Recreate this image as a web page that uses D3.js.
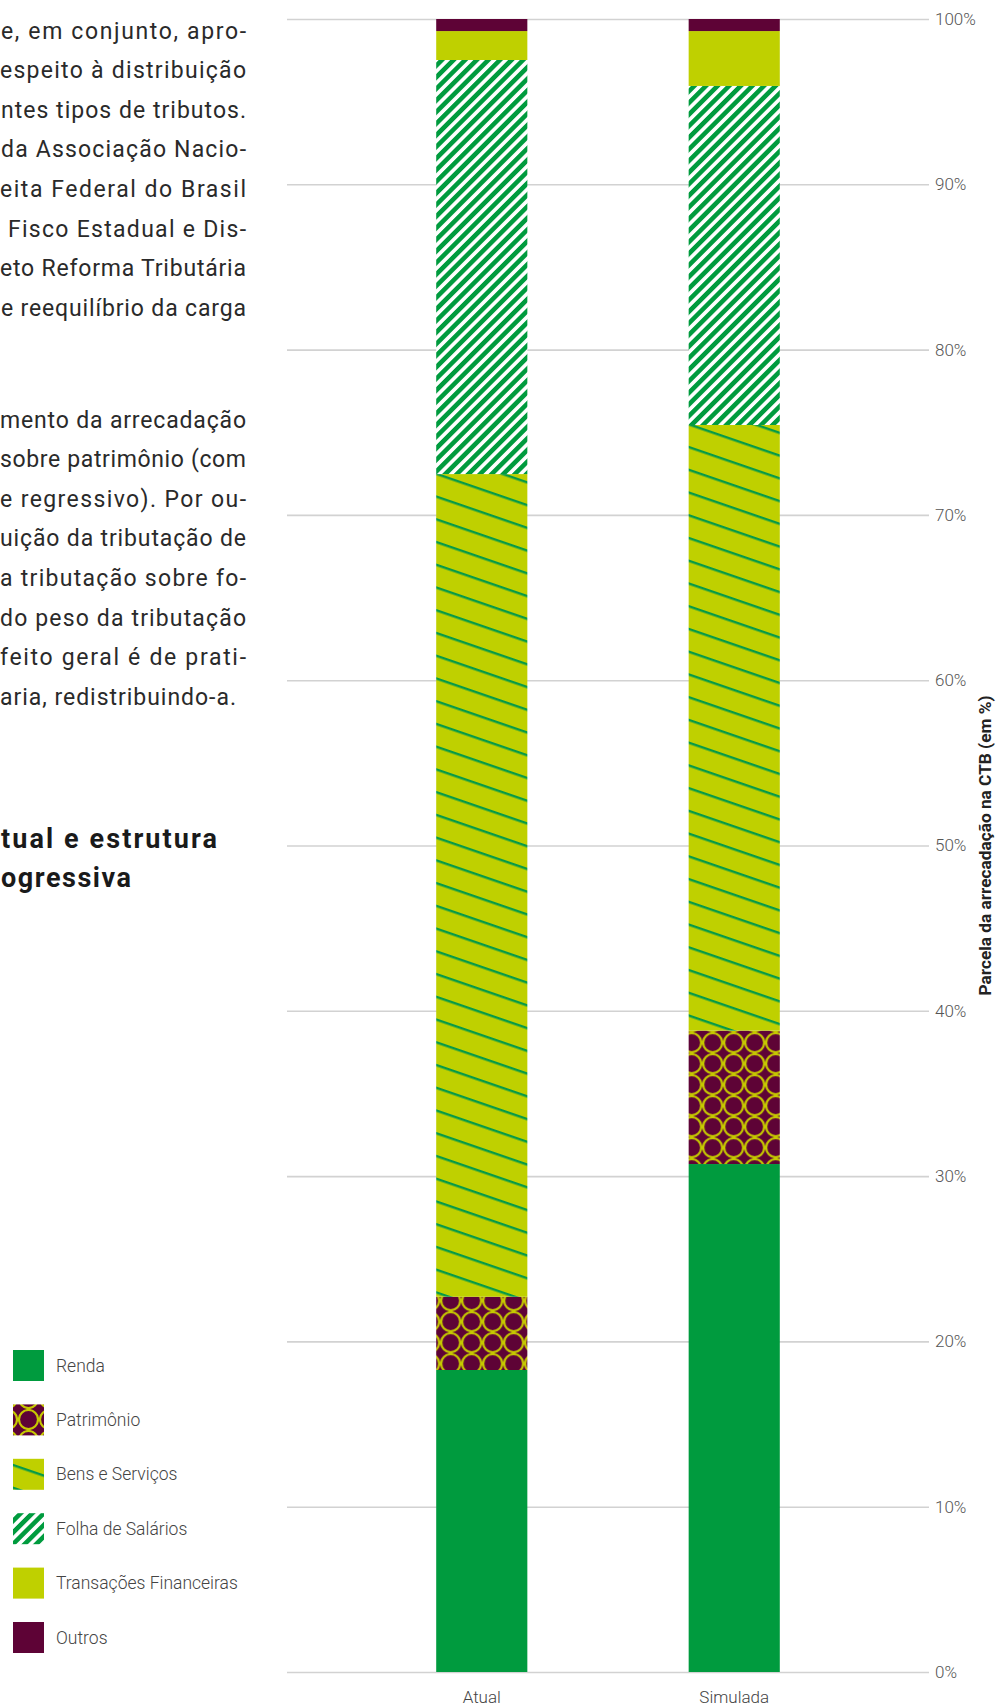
<!DOCTYPE html>
<html>
<head>
<meta charset="utf-8">
<script src="https://cdn.jsdelivr.net/npm/d3@7"></script>
<style>
  html, body { margin: 0; padding: 0; background: #fff; }
  svg { display: block; }
</style>
</head>
<body>
<div id="chart"></div>
<script>
// ---------- DATA ----------
const categories = ["Atual", "Simulada"];
const seriesNames = ["Renda", "Patrimônio", "Bens e Serviços", "Folha de Salários", "Transações Financeiras", "Outros"];
const renda         = [18.27, 30.73];
const patrimonio    = [4.43, 8.07];
const bensServicos  = [49.77, 36.64];
const folhaSalarios = [25.05, 20.51];
const transacoes    = [1.75, 3.32];
const outros        = [0.73, 0.73];
const yTicks = [0, 10, 20, 30, 40, 50, 60, 70, 80, 90, 100];
const axisTitle = "Parcela da arrecadação na CTB (em %)";

const para1 = [
  "e, em conjunto, apro-",
  "espeito à distribuição",
  "ntes tipos de tributos.",
  "da Associação Nacio-",
  "eita Federal do Brasil",
  "Fisco Estadual e Dis-",
  "eto Reforma Tributária",
  "e reequilíbrio da carga"
];
const para2 = [
  "mento da arrecadação",
  "sobre patrimônio (com",
  "e regressivo). Por ou-",
  "uição da tributação de",
  "a tributação sobre fo-",
  "do peso da tributação",
  "feito geral é de prati-",
  "aria, redistribuindo-a."
];
const titleLines = ["tual e estrutura", "ogressiva"];

// ---------- SETUP ----------
const W = 1003, H = 1706;
const FONT = "Roboto, 'Noto Sans', sans-serif";
const svg = d3.select("#chart").append("svg").attr("width", W).attr("height", H);
const defs = svg.append("defs");

const C_GREEN = "#009B3E";
const C_LIME = "#BFD000";
const C_MAROON = "#5E0336";
const C_LINE = "#069A48";
const C_RING = "#C6C900";

// stripes (Folha de Salários)
const pStripe = defs.append("pattern").attr("id", "pFolha")
  .attr("patternUnits", "userSpaceOnUse").attr("width", 8.2).attr("height", 10)
  .attr("patternTransform", "rotate(45)");
pStripe.append("rect").attr("width", 8.2).attr("height", 10).attr("fill", "#fff");
pStripe.append("rect").attr("width", 4.6).attr("height", 10).attr("fill", C_GREEN);

// shallow lines (Bens e Serviços)
const pBens = defs.append("pattern").attr("id", "pBens")
  .attr("patternUnits", "userSpaceOnUse").attr("width", 40).attr("height", 21.5)
  .attr("patternTransform", "translate(0,4) rotate(19)");
pBens.append("rect").attr("width", 40).attr("height", 21.5).attr("fill", C_LIME);
pBens.append("rect").attr("y", 0).attr("width", 40).attr("height", 2.4).attr("fill", C_LINE);

// circles (Patrimônio)
function ringPattern(id, cx, cy) {
  const s = 21;
  const p = defs.append("pattern").attr("id", id)
    .attr("patternUnits", "userSpaceOnUse").attr("width", s).attr("height", s)
    .attr("x", cx - s / 2).attr("y", cy - s / 2);
  p.append("rect").attr("width", s).attr("height", s).attr("fill", C_MAROON);
  p.append("circle").attr("cx", s / 2).attr("cy", s / 2).attr("r", 9.5)
    .attr("fill", "none").attr("stroke", C_RING).attr("stroke-width", 2.2);
  [[0, s / 2], [s, s / 2], [s / 2, 0], [s / 2, s]].forEach(([x, y]) => {
    p.append("circle").attr("cx", x).attr("cy", y).attr("r", 1.3).attr("fill", C_RING);
  });
}
ringPattern("pPatr0", 450.7, 1321.7);
ringPattern("pPatr1", 691.7, 1042.7);
ringPattern("pPatrL", 28.5, 1419.5);

function fillFor(name, i) {
  switch (name) {
    case "Renda": return C_GREEN;
    case "Patrimônio": return i === "L" ? "url(#pPatrL)" : `url(#pPatr${i})`;
    case "Bens e Serviços": return "url(#pBens)";
    case "Folha de Salários": return "url(#pFolha)";
    case "Transações Financeiras": return C_LIME;
    case "Outros": return C_MAROON;
  }
}

// ---------- SCALES ----------
const y = d3.scaleLinear().domain([0, 100]).range([1672, 19]);
const x = d3.scaleBand().domain(categories).range([287, 929])
  .paddingInner(0.639).paddingOuter(0.591);

// ---------- GRID + Y AXIS ----------
const yAxis = d3.axisRight(y).tickValues(yTicks).tickSize(929 - 287)
  .tickFormat(d => d + "%").tickPadding(6);
const gy = svg.append("g").attr("transform", "translate(287,0)").call(yAxis);
gy.select(".domain").remove();
gy.selectAll(".tick line").attr("stroke", "#d2d2d2").attr("stroke-width", 1.6);
gy.selectAll(".tick text").attr("font-family", FONT).attr("font-size", 17)
  .attr("font-weight", 300).attr("fill", "#555");

// ---------- STACKED BARS ----------
const rows = categories.map((c, i) => ({
  cat: c,
  "Renda": renda[i],
  "Patrimônio": patrimonio[i],
  "Bens e Serviços": bensServicos[i],
  "Folha de Salários": folhaSalarios[i],
  "Transações Financeiras": transacoes[i],
  "Outros": outros[i]
}));
const stacked = d3.stack().keys(seriesNames)(rows);

svg.append("g").selectAll("g").data(stacked).join("g")
  .each(function (s) {
    d3.select(this).selectAll("rect").data(s).join("rect")
      .attr("x", d => x(d.data.cat))
      .attr("width", x.bandwidth())
      .attr("y", d => y(d[1]))
      .attr("height", d => y(d[0]) - y(d[1]))
      .attr("fill", (d, i) => fillFor(s.key, i));
  });

// ---------- X AXIS LABELS ----------
const xAxis = d3.axisBottom(x).tickSize(0).tickPadding(0);
const gx = svg.append("g").attr("transform", "translate(0,1688)").call(xAxis);
gx.select(".domain").remove();
gx.selectAll(".tick text").attr("font-family", FONT).attr("font-size", 17)
  .attr("font-weight", 300).attr("fill", "#444").attr("dy", "0.9em");

// ---------- AXIS TITLE ----------
svg.append("text")
  .attr("transform", `translate(991,${(y(0) + y(100)) / 2}) rotate(-90)`)
  .attr("text-anchor", "middle")
  .attr("font-family", FONT).attr("font-size", 17).attr("font-weight", 700)
  .attr("fill", "#222")
  .attr("textLength", 300).attr("lengthAdjust", "spacingAndGlyphs")
  .text(axisTitle);

// ---------- LEGEND ----------
const legend = svg.append("g");
const legTop = 1350, legStep = 54.4;
seriesNames.forEach((name, i) => {
  const yy = legTop + i * legStep;
  legend.append("rect").attr("x", 13).attr("y", yy).attr("width", 31).attr("height", 31)
    .attr("fill", fillFor(name, "L"));
  legend.append("text").attr("x", 56).attr("y", yy + 15.5).attr("dy", "0.35em")
    .attr("font-family", FONT).attr("font-size", 17.5).attr("font-weight", 300)
    .attr("fill", "#444").text(name);
});

// ---------- BODY TEXT (justified lines, clipped at the left edge) ----------
const body = svg.append("g").attr("font-family", FONT).attr("font-size", 23)
  .attr("font-weight", 400).attr("fill", "#2a2a2a");
const p1Start = [1, 0, 1, 1, 0, 8, 0, 1];
para1.forEach((t, i) => body.append("text")
  .attr("x", p1Start[i]).attr("y", 38.5 + i * 39.6)
  .attr("textLength", 246 - p1Start[i]).attr("lengthAdjust", "spacing").text(t));
para2.forEach((t, i) => {
  const end = i === para2.length - 1 ? 236 : 246;
  body.append("text").attr("x", 0).attr("y", 427.5 + i * 39.6)
    .attr("textLength", end).attr("lengthAdjust", "spacing").text(t);
});

const title = svg.append("g").attr("font-family", FONT).attr("font-size", 27)
  .attr("font-weight", 700).attr("fill", "#1a1a1a");
title.append("text").attr("x", 1).attr("y", 848)
  .attr("textLength", 216).attr("lengthAdjust", "spacing").text(titleLines[0]);
title.append("text").attr("x", 1).attr("y", 887)
  .attr("textLength", 130).attr("lengthAdjust", "spacing").text(titleLines[1]);
</script>
</body>
</html>
